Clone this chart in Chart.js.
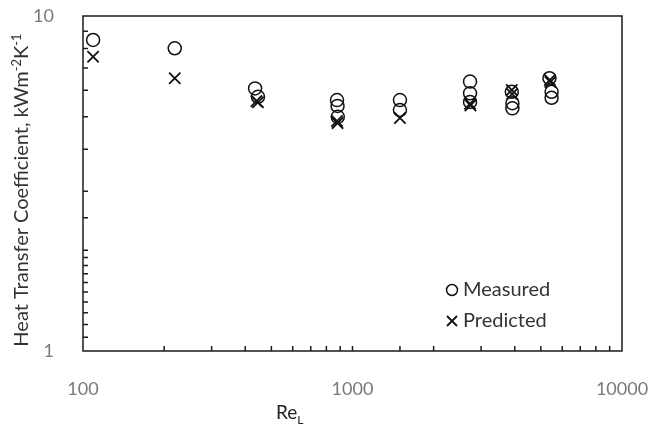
<!DOCTYPE html>
<html>
<head>
<meta charset="utf-8">
<script src="https://cdn.jsdelivr.net/npm/chart.js@4/dist/chart.umd.min.js"></script>
<style>
  html, body { margin: 0; padding: 0; background: #fff; }
  #wrap { width: 652px; height: 431px; }
</style>
</head>
<body>
<div id="wrap"><canvas id="c"></canvas></div>
<script>
// Heat transfer coefficient vs Re_L, log-log, measured vs predicted.

const FONT = "Lato, 'Open Sans', sans-serif";
const TICK_INK = '#7a7a7a', TITLE_INK = '#333', AXIS = '#1a1a1a';

const measuredRe = [109, 219, 435, 446, 876, 880, 882, 1500, 1500, 2730, 2730, 2730, 3900, 3920, 3920, 5380, 5480, 5480];
const measuredH  = [8.48, 8.01, 6.08, 5.74, 5.61, 5.39, 5.00, 5.61, 5.24, 6.37, 5.88, 5.54, 5.94, 5.49, 5.30, 6.52, 5.94, 5.70];

const predictedRe = [109, 219, 440, 446, 876, 880, 1500, 2730, 2740, 3900, 3910, 5400, 5420];
const predictedH  = [7.56, 6.52, 5.57, 5.53, 4.86, 4.79, 4.96, 5.47, 5.41, 6.01, 5.85, 6.44, 6.35];

const xMajor = [100, 1000, 10000];
const yMajor = [1, 10];

const pts = (xs, ys) => xs.map((x, i) => ({ x, y: ys[i] }));

// frame, inward tick marks, rich-text axis titles and the in-plot legend
const decor = {
  id: 'decor',
  afterDraw(chart) {
    const { ctx, chartArea: a, scales } = chart;
    ctx.save();
    ctx.strokeStyle = AXIS;
    ctx.lineWidth = 1.5;
    ctx.strokeRect(a.left, a.top, a.right - a.left, a.bottom - a.top);

    ctx.beginPath();
    for (const t of scales.x.ticks) {
      const px = scales.x.getPixelForValue(t.value);
      if (px <= a.left + 1 || px >= a.right - 1) continue;
      ctx.moveTo(px, a.bottom); ctx.lineTo(px, a.bottom - 5);
    }
    for (const t of scales.y.ticks) {
      const py = scales.y.getPixelForValue(t.value);
      if (py <= a.top + 1 || py >= a.bottom - 1) continue;
      ctx.moveTo(a.left, py); ctx.lineTo(a.left + 5, py);
    }
    ctx.stroke();

    // y title: Heat Transfer Coefficient, kWm^-2K^-1
    ctx.fillStyle = TITLE_INK;
    ctx.textBaseline = 'alphabetic';
    ctx.translate(28, 190);
    ctx.rotate(-Math.PI / 2);
    const segs = [
      ['Heat Transfer Coefficient, kWm', 0], ['-2', 1], ['K', 0], ['-1', 1],
    ];
    const big = '20px ' + FONT, small = '13px ' + FONT;
    let w = 0;
    for (const [s, sup] of segs) { ctx.font = sup ? small : big; w += ctx.measureText(s).width; }
    let x = -w / 2;
    for (const [s, sup] of segs) {
      ctx.font = sup ? small : big;
      ctx.fillText(s, x, sup ? -7 : 0);
      x += ctx.measureText(s).width;
    }
    ctx.setTransform(1, 0, 0, 1, 0, 0);

    // x title: Re_L
    ctx.fillStyle = '#222';
    ctx.font = '19px ' + FONT;
    ctx.textAlign = 'left';
    ctx.fillText('Re', 276, 419);
    const rw = ctx.measureText('Re').width;
    ctx.font = '12px ' + FONT;
    ctx.fillText('L', 276 + rw, 424);

    // legend
    ctx.font = '20px ' + FONT;
    ctx.fillStyle = TITLE_INK;
    ctx.textBaseline = 'middle';
    ctx.strokeStyle = '#111';
    ctx.lineWidth = 1.5;
    ctx.beginPath(); ctx.arc(452, 290, 5.5, 0, Math.PI * 2); ctx.stroke();
    ctx.fillText('Measured', 463, 290);
    ctx.lineWidth = 1.8;
    ctx.beginPath();
    ctx.moveTo(447, 316); ctx.lineTo(457, 326);
    ctx.moveTo(457, 316); ctx.lineTo(447, 326);
    ctx.stroke();
    ctx.fillText('Predicted', 463, 321);
    ctx.restore();
  },
};

new Chart(document.getElementById('c'), {
  type: 'scatter',
  data: {
    datasets: [
      {
        label: 'Measured',
        data: pts(measuredRe, measuredH),
        pointStyle: 'circle',
        pointRadius: 6.5,
        pointHoverRadius: 6.5,
        borderColor: '#111',
        backgroundColor: 'rgba(0,0,0,0)',
        borderWidth: 1.5,
      },
      {
        label: 'Predicted',
        data: pts(predictedRe, predictedH),
        pointStyle: 'crossRot',
        pointRadius: 8,
        pointHoverRadius: 8,
        borderColor: '#111',
        backgroundColor: '#111',
        borderWidth: 1.8,
      },
    ],
  },
  options: {
    responsive: true,
    maintainAspectRatio: false,
    animation: false,
    layout: { padding: { left: 0, top: 16, right: 30, bottom: 0 } },
    plugins: { legend: { display: false }, tooltip: { enabled: false } },
    scales: {
      x: {
        type: 'logarithmic',
        min: 100,
        max: 10000,
        afterFit: (s) => { s.height = 80; s.paddingLeft = 0; s.paddingRight = 0; },
        grid: { display: false },
        border: { display: false },
        ticks: {
          autoSkip: false,
          maxRotation: 0,
          padding: 19,
          color: TICK_INK,
          font: { family: FONT, size: 18 },
          callback: (v) => (xMajor.includes(v) ? String(v) : ''),
        },
      },
      y: {
        type: 'logarithmic',
        min: 1,
        max: 10,
        afterFit: (s) => { s.width = 83; s.paddingTop = 0; s.paddingBottom = 0; },
        grid: { display: false },
        border: { display: false },
        ticks: {
          autoSkip: false,
          padding: 21,
          color: TICK_INK,
          font: { family: FONT, size: 18 },
          callback: (v) => (yMajor.includes(v) ? String(v) : ''),
        },
      },
    },
  },
  plugins: [decor],
});
</script>
</body>
</html>
